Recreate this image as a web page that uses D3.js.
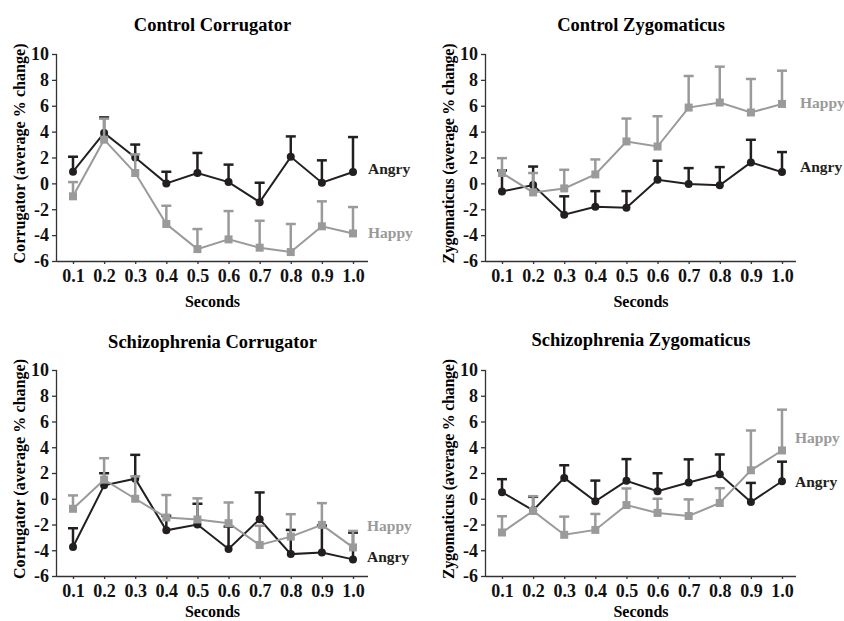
<!DOCTYPE html>
<html>
<head>
<meta charset="utf-8">
<script src="https://cdn.jsdelivr.net/npm/d3@7"></script>
<style>
  body { margin: 0; background: #fff; }
  svg text { font-family: "Liberation Serif", "Times New Roman", serif; font-weight: bold; }
</style>
</head>
<body>
<svg id="chart" width="844" height="621"></svg>
<script>
var seconds = [0.1, 0.2, 0.3, 0.4, 0.5, 0.6, 0.7, 0.8, 0.9, 1.0];
var yTicks = [-6, -4, -2, 0, 2, 4, 6, 8, 10];

// control corrugator
var ctrlCorrAngry = [0.9, 3.9, 2.0, 0.0, 0.8, 0.1, -1.45, 2.05, 0.05, 0.88];
var ctrlCorrAngryErr = [1.16, 1.2, 1.0, 0.9, 1.55, 1.35, 1.5, 1.58, 1.73, 2.7];
var ctrlCorrHappy = [-1.0, 3.38, 0.8, -3.14, -5.08, -4.33, -4.97, -5.31, -3.32, -3.87];
var ctrlCorrHappyErr = [1.1, 1.62, 1.44, 1.41, 1.55, 2.19, 2.08, 2.17, 1.93, 2.04];

// control zygomaticus
var ctrlZygAngry = [-0.62, -0.13, -2.42, -1.8, -1.88, 0.28, -0.05, -0.15, 1.62, 0.87];
var ctrlZygAngryErr = [1.62, 1.43, 1.42, 1.2, 1.28, 1.47, 1.23, 1.41, 1.75, 1.55];
var ctrlZygHappy = [0.8, -0.7, -0.39, 0.69, 3.24, 2.85, 5.86, 6.25, 5.48, 6.14];
var ctrlZygHappyErr = [1.15, 1.5, 1.44, 1.16, 1.77, 2.34, 2.44, 2.77, 2.59, 2.57];

// schizophrenia corrugator
var sczCorrAngry = [-3.75, 1.04, 1.56, -2.45, -2.0, -3.9, -1.59, -4.3, -4.17, -4.71];
var sczCorrAngryErr = [1.46, 0.94, 1.85, 1.12, 1.61, 1.74, 2.08, 1.88, 2.09, 2.08];
var sczCorrHappy = [-0.78, 1.48, 0.0, -1.46, -1.61, -1.9, -3.59, -2.94, -2.03, -3.78];
var sczCorrHappyErr = [1.04, 1.67, 1.74, 1.75, 1.64, 1.61, 1.49, 1.74, 1.69, 1.28];

// schizophrenia zygomaticus
var sczZygAngry = [0.51, -0.9, 1.62, -0.2, 1.39, 0.59, 1.26, 1.9, -0.26, 1.36];
var sczZygAngryErr = [1.01, 1.05, 0.98, 1.61, 1.69, 1.39, 1.8, 1.54, 1.49, 1.52];
var sczZygHappy = [-2.62, -0.95, -2.8, -2.42, -0.49, -1.1, -1.34, -0.33, 2.21, 3.75];
var sczZygHappyErr = [1.26, 1.15, 1.41, 1.24, 1.29, 1.1, 1.29, 1.15, 3.09, 3.17];

var black = '#231f20', grey = '#9a9a9a';

var panels = [
  { title: 'Control Corrugator', ylab: 'Corrugator (average % change)',
    angry: ctrlCorrAngry, angryErr: ctrlCorrAngryErr, happy: ctrlCorrHappy, happyErr: ctrlCorrHappyErr,
    x0: 57, x1: 368, top: 54, bottom: 261, titleY: 31, secY: 307, angryY: 169, happyY: 233, labX: 368 },
  { title: 'Control Zygomaticus', ylab: 'Zygomaticus (average % change)',
    angry: ctrlZygAngry, angryErr: ctrlZygAngryErr, happy: ctrlZygHappy, happyErr: ctrlZygHappyErr,
    x0: 486, x1: 796, top: 54, bottom: 261, titleY: 31, secY: 307, angryY: 167, happyY: 103, labX: 800 },
  { title: 'Schizophrenia Corrugator', ylab: 'Corrugator (average % change)',
    angry: sczCorrAngry, angryErr: sczCorrAngryErr, happy: sczCorrHappy, happyErr: sczCorrHappyErr,
    x0: 57, x1: 368, top: 370, bottom: 576, titleY: 348, secY: 617, angryY: 557, happyY: 526, labX: 367 },
  { title: 'Schizophrenia Zygomaticus', ylab: 'Zygomaticus (average % change)',
    angry: sczZygAngry, angryErr: sczZygAngryErr, happy: sczZygHappy, happyErr: sczZygHappyErr,
    x0: 486, x1: 796, top: 370, bottom: 576, titleY: 346, secY: 617, angryY: 482, happyY: 438, labX: 795 }
];

var svg = d3.select('#chart');

panels.forEach(function(p) {
  var g = svg.append('g');
  var x = d3.scaleLinear().domain([0.1, 1.0]).range([p.x0 + 16, p.x0 + 296]);
  var y = d3.scaleLinear().domain([-6, 10]).range([p.bottom, p.top]);

  // axes
  var yAxis = g.append('g')
    .attr('transform', 'translate(' + p.x0 + ',0)')
    .call(d3.axisLeft(y).tickValues(yTicks).tickSize(5).tickPadding(3).tickFormat(function(d) { return String(d); }));
  var xAxis = g.append('g')
    .attr('transform', 'translate(0,' + p.bottom + ')')
    .call(d3.axisBottom(x).tickValues(seconds).tickSize(3).tickPadding(5).tickFormat(d3.format('.1f')));
  xAxis.select('.domain').attr('d', 'M' + p.x0 + ',0.5H' + p.x1);
  yAxis.select('.domain').attr('d', 'M-0.5,' + p.top + 'V' + p.bottom);
  g.selectAll('.domain, .tick line').attr('stroke', '#333').attr('stroke-width', 1.3);
  g.selectAll('.tick text').style('font-size', '18px').attr('fill', '#111');

  g.append('text')
    .attr('x', (p.x0 + p.x1) / 2)
    .attr('y', p.titleY)
    .attr('text-anchor', 'middle')
    .style('font-size', '18.5px')
    .text(p.title);

  g.append('text')
    .attr('x', (p.x0 + p.x1) / 2)
    .attr('y', p.secY)
    .attr('text-anchor', 'middle')
    .style('font-size', '16px')
    .text('Seconds');

  var ymid = (p.top + p.bottom) / 2 - 4;
  g.append('text')
    .attr('transform', 'translate(' + (p.x0 - 32) + ',' + ymid + ') rotate(-90)')
    .attr('text-anchor', 'middle')
    .attr('textLength', 220)
    .attr('lengthAdjust', 'spacing')
    .style('font-size', '16px')
    .text(p.ylab);

  var series = [
    { vals: p.angry, err: p.angryErr, color: black, shape: 'circle', name: 'Angry', ly: p.angryY },
    { vals: p.happy, err: p.happyErr, color: grey, shape: 'square', name: 'Happy', ly: p.happyY }
  ];

  series.forEach(function(s) {
    var pts = seconds.map(function(t, i) { return { t: t, v: s.vals[i], e: s.err[i] }; });
    var sg = g.append('g');

    sg.selectAll('line.err').data(pts).enter().append('line')
      .attr('class', 'err')
      .attr('x1', function(d) { return x(d.t); })
      .attr('x2', function(d) { return x(d.t); })
      .attr('y1', function(d) { return y(d.v); })
      .attr('y2', function(d) { return y(d.v + d.e); })
      .attr('stroke', s.color).attr('stroke-width', 2.5);
    sg.selectAll('line.cap').data(pts).enter().append('line')
      .attr('class', 'cap')
      .attr('x1', function(d) { return x(d.t) - 5; })
      .attr('x2', function(d) { return x(d.t) + 5; })
      .attr('y1', function(d) { return y(d.v + d.e); })
      .attr('y2', function(d) { return y(d.v + d.e); })
      .attr('stroke', s.color).attr('stroke-width', 2.5);

    sg.append('path')
      .datum(pts)
      .attr('fill', 'none')
      .attr('stroke', s.color)
      .attr('stroke-width', 2)
      .attr('d', d3.line().x(function(d) { return x(d.t); }).y(function(d) { return y(d.v); }));

    if (s.shape === 'circle') {
      sg.selectAll('circle').data(pts).enter().append('circle')
        .attr('cx', function(d) { return x(d.t); })
        .attr('cy', function(d) { return y(d.v); })
        .attr('r', 4)
        .attr('fill', s.color);
    } else {
      sg.selectAll('rect').data(pts).enter().append('rect')
        .attr('x', function(d) { return x(d.t) - 4; })
        .attr('y', function(d) { return y(d.v) - 4; })
        .attr('width', 8).attr('height', 8)
        .attr('fill', s.color);
    }

    g.append('text')
      .attr('x', p.labX)
      .attr('y', s.ly + 5)
      .attr('fill', s.color)
      .style('font-size', '15.5px')
      .text(s.name);
  });
});
</script>
</body>
</html>
